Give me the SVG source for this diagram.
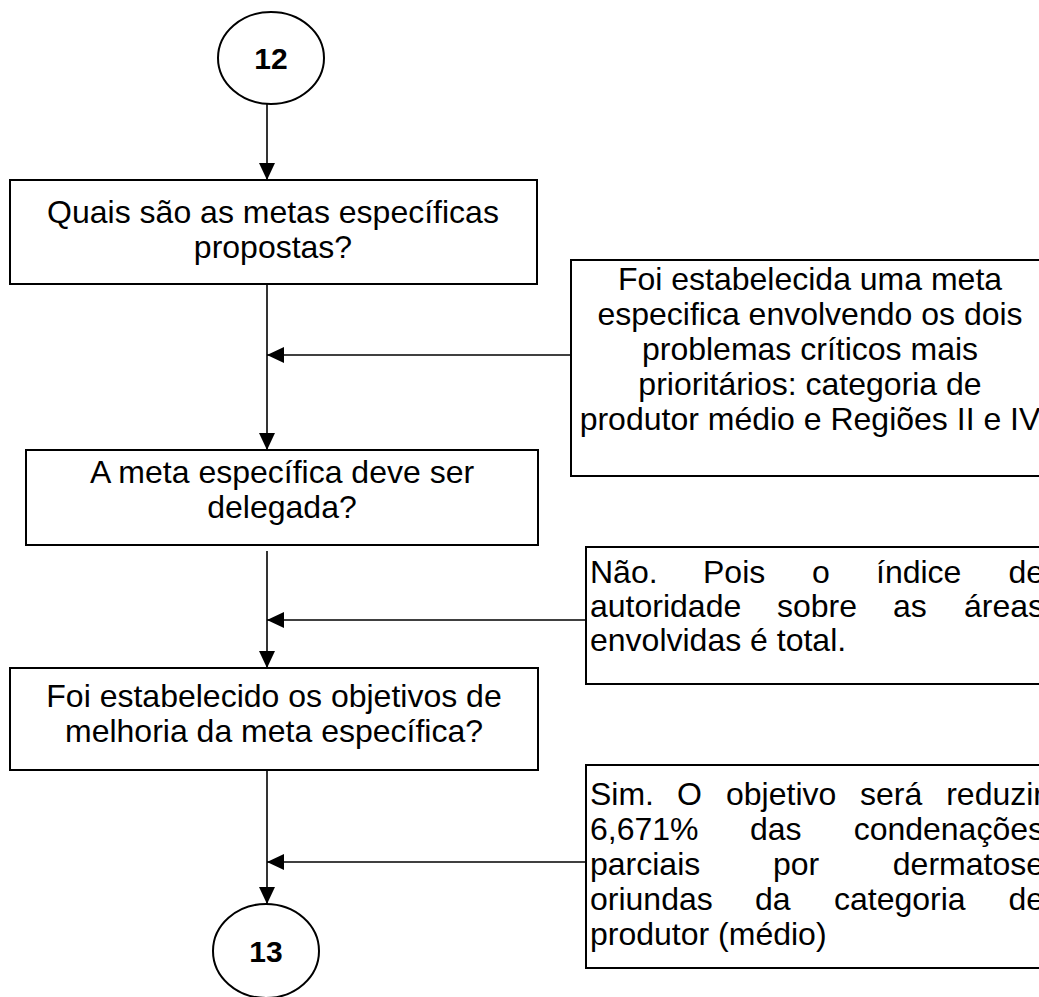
<svg xmlns="http://www.w3.org/2000/svg" width="1039" height="997" viewBox="0 0 1039 997">
<style>
.box{fill:#fff;stroke:#000;stroke-width:2}
.ln{fill:none;stroke:#000;stroke-width:1.6}
text{font-family:"Liberation Sans",Arial,sans-serif;font-size:32px;fill:#000}
.c{text-anchor:middle}
.e{text-anchor:end}
.b{font-weight:bold;font-size:30px}
</style>
<defs>
<marker id="ahv" viewBox="0 0 17 16" refX="17" refY="8" markerWidth="17" markerHeight="16" markerUnits="userSpaceOnUse" orient="auto">
<path d="M0,0 L17,8 L0,16 Z" fill="#000"/>
</marker>
</defs>
<rect width="1039" height="997" fill="#fff"/>
<g id="connectors">
<line class="ln" x1="267" y1="104" x2="267" y2="180" marker-end="url(#ahv)"/>
<line class="ln" x1="267" y1="284" x2="267" y2="450" marker-end="url(#ahv)"/>
<line class="ln" x1="571" y1="355" x2="267" y2="355" marker-end="url(#ahv)"/>
<line class="ln" x1="267" y1="551" x2="267" y2="668" marker-end="url(#ahv)"/>
<line class="ln" x1="586" y1="620" x2="267" y2="620" marker-end="url(#ahv)"/>
<line class="ln" x1="267" y1="770" x2="267" y2="904" marker-end="url(#ahv)"/>
<line class="ln" x1="586" y1="862" x2="267" y2="862" marker-end="url(#ahv)"/>
</g>
<g id="n12">
<ellipse class="box" cx="271" cy="58" rx="53" ry="46"/>
<text class="c b" x="271" y="69">12</text>
</g>
<g id="q1">
<rect class="box" x="10" y="180" width="527" height="104"/>
<text class="c" x="273" y="223">Quais são as metas específicas</text>
<text class="c" x="273" y="258">propostas?</text>
</g>
<g id="a1">
<rect class="box" x="571" y="260" width="480" height="216"/>
<text class="c" x="810" y="290">Foi estabelecida uma meta</text>
<text class="c" x="810" y="325">especifica envolvendo os dois</text>
<text class="c" x="810" y="360">problemas críticos mais</text>
<text class="c" x="810" y="395">prioritários: categoria de</text>
<text class="c" x="810" y="430">produtor médio e Regiões II e IV</text>
</g>
<g id="q2">
<rect class="box" x="26" y="450" width="512" height="95"/>
<text class="c" x="282" y="483">A meta específica deve ser</text>
<text class="c" x="282" y="518">delegada?</text>
</g>
<g id="a2">
<rect class="box" x="586" y="547" width="465" height="137"/>
<text y="583"><tspan x="590">Não.</tspan><tspan x="703">Pois</tspan><tspan x="812">o</tspan><tspan x="876">índice</tspan><tspan x="1044" class="e">de</tspan></text>
<text y="617"><tspan x="590">autoridade</tspan><tspan x="777">sobre</tspan><tspan x="893">as</tspan><tspan x="1044" class="e">áreas</tspan></text>
<text x="590" y="651">envolvidas é total.</text>
</g>
<g id="q3">
<rect class="box" x="10" y="668" width="528" height="102"/>
<text class="c" x="274" y="707">Foi estabelecido os objetivos de</text>
<text class="c" x="274" y="742">melhoria da meta específica?</text>
</g>
<g id="a3">
<rect class="box" x="586" y="765" width="465" height="203"/>
<text y="805"><tspan x="590">Sim.</tspan><tspan x="677">O</tspan><tspan x="726">objetivo</tspan><tspan x="860">será</tspan><tspan x="1044" class="e">reduzir</tspan></text>
<text y="840"><tspan x="590">6,671%</tspan><tspan x="750">das</tspan><tspan x="1044" class="e">condenações</tspan></text>
<text y="875"><tspan x="590">parciais</tspan><tspan x="773">por</tspan><tspan x="1044" class="e">dermatose</tspan></text>
<text y="910"><tspan x="590">oriundas</tspan><tspan x="755">da</tspan><tspan x="834">categoria</tspan><tspan x="1044" class="e">de</tspan></text>
<text x="590" y="945">produtor (médio)</text>
</g>
<g id="n13">
<ellipse class="box" cx="266" cy="951" rx="53" ry="47"/>
<text class="c b" x="266" y="962">13</text>
</g>
</svg>
